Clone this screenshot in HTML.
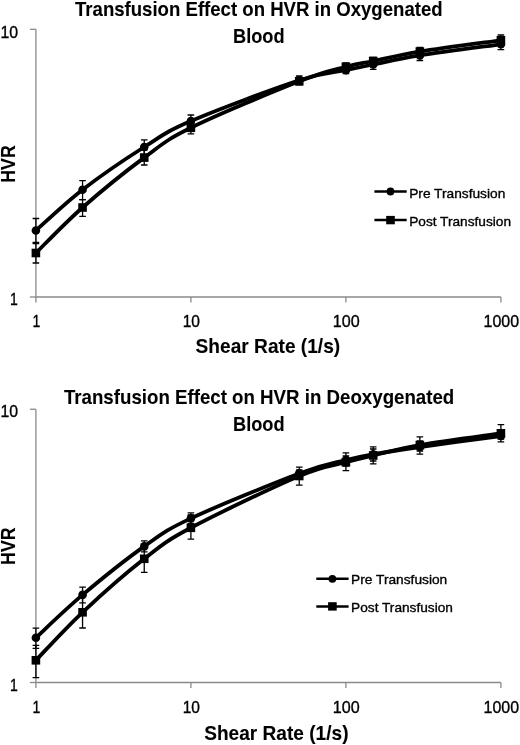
<!DOCTYPE html>
<html><head><meta charset="utf-8"><style>
html,body{margin:0;padding:0;background:#fff;width:520px;height:745px;overflow:hidden}
svg{display:block;font-family:"Liberation Sans",sans-serif;filter:grayscale(1) blur(0.4px)}
text{fill:#000;stroke:#000;stroke-width:0.35px}
text.b{stroke-width:0.1px}
</style></head><body>
<svg width="520" height="745" viewBox="0 0 520 745">
<g stroke="#8a8a8a" stroke-width="1.3" fill="none"><path d="M35.90,29.30V297.00H500.90"/><path d="M29.90,29.30H35.90"/><path d="M29.90,297.00H35.90"/><path d="M35.90,297.00V302.50"/><path d="M190.90,297.00V302.50"/><path d="M345.90,297.00V302.50"/><path d="M500.90,297.00V302.50"/></g>
<path d="M35.90,230.50 C43.68,223.70 64.50,203.62 82.56,189.70 C100.62,175.78 126.18,158.45 144.24,147.00 C162.30,135.55 165.07,132.12 190.90,121.00 C216.73,109.88 273.41,88.77 299.24,80.30 C325.07,71.83 333.57,72.83 345.90,70.20 C358.23,67.57 360.87,66.97 373.19,64.50 C385.52,62.03 398.57,58.77 419.85,55.40 C441.14,52.03 487.39,46.15 500.90,44.30" fill="none" stroke="#000" stroke-width="3.8" stroke-linejoin="round"/>
<path d="M35.90,218.50V242.50M32.60,218.50h6.6M32.60,242.50h6.6" stroke="#000" stroke-width="1.3" fill="none"/>
<path d="M82.56,180.60V199.60M79.26,180.60h6.6M79.26,199.60h6.6" stroke="#000" stroke-width="1.3" fill="none"/>
<path d="M144.24,139.90V154.50M140.94,139.90h6.6M140.94,154.50h6.6" stroke="#000" stroke-width="1.3" fill="none"/>
<path d="M190.90,115.00V127.00M187.60,115.00h6.6M187.60,127.00h6.6" stroke="#000" stroke-width="1.3" fill="none"/>
<path d="M299.24,76.00V84.50M295.94,76.00h6.6M295.94,84.50h6.6" stroke="#000" stroke-width="1.3" fill="none"/>
<path d="M345.90,66.00V73.50M342.60,66.00h6.6M342.60,73.50h6.6" stroke="#000" stroke-width="1.3" fill="none"/>
<path d="M373.19,60.00V69.40M369.89,60.00h6.6M369.89,69.40h6.6" stroke="#000" stroke-width="1.3" fill="none"/>
<path d="M419.85,51.00V60.50M416.55,51.00h6.6M416.55,60.50h6.6" stroke="#000" stroke-width="1.3" fill="none"/>
<path d="M500.90,40.00V49.70M497.60,40.00h6.6M497.60,49.70h6.6" stroke="#000" stroke-width="1.3" fill="none"/>
<circle cx="35.90" cy="230.50" r="4.3"/>
<circle cx="82.56" cy="189.70" r="4.3"/>
<circle cx="144.24" cy="147.00" r="4.3"/>
<circle cx="190.90" cy="121.00" r="4.3"/>
<circle cx="299.24" cy="80.30" r="4.3"/>
<circle cx="345.90" cy="70.20" r="4.3"/>
<circle cx="373.19" cy="64.50" r="4.3"/>
<circle cx="419.85" cy="55.40" r="4.3"/>
<circle cx="500.90" cy="44.30" r="4.3"/>
<path d="M35.90,253.00 C43.68,245.42 64.50,223.40 82.56,207.50 C100.62,191.60 126.18,170.88 144.24,157.60 C162.30,144.32 165.07,140.52 190.90,127.80 C216.73,115.08 273.41,91.47 299.24,81.30 C325.07,71.13 333.57,70.18 345.90,66.80 C358.23,63.42 360.87,63.53 373.19,61.00 C385.52,58.47 398.57,55.05 419.85,51.60 C441.14,48.15 487.39,42.18 500.90,40.30" fill="none" stroke="#000" stroke-width="3.8" stroke-linejoin="round"/>
<path d="M35.90,243.50V263.00M32.60,243.50h6.6M32.60,263.00h6.6" stroke="#000" stroke-width="1.3" fill="none"/>
<path d="M82.56,199.60V216.30M79.26,199.60h6.6M79.26,216.30h6.6" stroke="#000" stroke-width="1.3" fill="none"/>
<path d="M144.24,150.00V165.00M140.94,150.00h6.6M140.94,165.00h6.6" stroke="#000" stroke-width="1.3" fill="none"/>
<path d="M190.90,121.50V133.80M187.60,121.50h6.6M187.60,133.80h6.6" stroke="#000" stroke-width="1.3" fill="none"/>
<path d="M299.24,77.50V84.50M295.94,77.50h6.6M295.94,84.50h6.6" stroke="#000" stroke-width="1.3" fill="none"/>
<path d="M345.90,63.00V70.00M342.60,63.00h6.6M342.60,70.00h6.6" stroke="#000" stroke-width="1.3" fill="none"/>
<path d="M373.19,57.50V64.50M369.89,57.50h6.6M369.89,64.50h6.6" stroke="#000" stroke-width="1.3" fill="none"/>
<path d="M419.85,47.50V55.00M416.55,47.50h6.6M416.55,55.00h6.6" stroke="#000" stroke-width="1.3" fill="none"/>
<path d="M500.90,35.00V44.00M497.60,35.00h6.6M497.60,44.00h6.6" stroke="#000" stroke-width="1.3" fill="none"/>
<rect x="31.60" y="248.70" width="8.6" height="8.6"/>
<rect x="78.26" y="203.20" width="8.6" height="8.6"/>
<rect x="139.94" y="153.30" width="8.6" height="8.6"/>
<rect x="186.60" y="123.50" width="8.6" height="8.6"/>
<rect x="294.94" y="77.00" width="8.6" height="8.6"/>
<rect x="341.60" y="62.50" width="8.6" height="8.6"/>
<rect x="368.89" y="56.70" width="8.6" height="8.6"/>
<rect x="415.55" y="47.30" width="8.6" height="8.6"/>
<rect x="496.60" y="36.00" width="8.6" height="8.6"/>
<path d="M374.40,191.50h32.3" stroke="#000" stroke-width="2.5"/><circle cx="390.50" cy="191.50" r="3.9"/><path d="M374.40,220.10h32.3" stroke="#000" stroke-width="2.5"/><rect x="386.20" y="215.90" width="8.6" height="8.4"/>
<text x="75.00" y="15.80" font-size="20.20" font-weight="bold" class="b" textLength="367.60" lengthAdjust="spacingAndGlyphs" text-anchor="start" >Transfusion Effect on HVR in Oxygenated</text>
<text x="233.00" y="42.90" font-size="20.20" font-weight="bold" class="b" textLength="51.60" lengthAdjust="spacingAndGlyphs" text-anchor="start" >Blood</text>
<text x="195.60" y="352.80" font-size="20.20" font-weight="bold" class="b" textLength="144.60" lengthAdjust="spacingAndGlyphs" text-anchor="start" >Shear Rate (1/s)</text>
<text x="409.20" y="197.90" font-size="13.50"  textLength="96.10" lengthAdjust="spacingAndGlyphs" text-anchor="start" >Pre Transfusion</text>
<text x="409.20" y="225.90" font-size="13.50"  textLength="101.80" lengthAdjust="spacingAndGlyphs" text-anchor="start" >Post Transfusion</text>
<text x="18.00" y="37.50" font-size="16.50"  textLength="17.60" lengthAdjust="spacingAndGlyphs" text-anchor="end" >10</text>
<text x="17.90" y="305.00" font-size="16.50"  textLength="7.80" lengthAdjust="spacingAndGlyphs" text-anchor="end" >1</text>
<text x="36.30" y="326.60" font-size="16.50"  textLength="7.80" lengthAdjust="spacingAndGlyphs" text-anchor="middle" >1</text>
<text x="191.30" y="326.60" font-size="16.50"  textLength="17.30" lengthAdjust="spacingAndGlyphs" text-anchor="middle" >10</text>
<text x="346.30" y="326.60" font-size="16.50"  textLength="26.90" lengthAdjust="spacingAndGlyphs" text-anchor="middle" >100</text>
<text x="501.30" y="326.60" font-size="16.50"  textLength="35.50" lengthAdjust="spacingAndGlyphs" text-anchor="middle" >1000</text>
<text transform="translate(14.6,164.00) rotate(-90)" font-size="20.2" font-weight="bold" class="b" text-anchor="middle" textLength="37.4" lengthAdjust="spacingAndGlyphs">HVR</text>
<g stroke="#8a8a8a" stroke-width="1.3" fill="none"><path d="M35.90,409.25V682.50H500.90"/><path d="M29.90,409.25H35.90"/><path d="M29.90,682.50H35.90"/><path d="M35.90,682.50V688.00"/><path d="M190.90,682.50V688.00"/><path d="M345.90,682.50V688.00"/><path d="M500.90,682.50V688.00"/></g>
<path d="M35.90,637.70 C43.68,630.57 64.50,610.12 82.56,594.90 C100.62,579.68 126.18,559.15 144.24,546.40 C162.30,533.65 165.07,530.55 190.90,518.40 C216.73,506.25 273.41,483.23 299.24,473.50 C325.07,463.77 333.57,463.22 345.90,460.00 C358.23,456.78 360.87,456.37 373.19,454.20 C385.52,452.03 398.57,450.03 419.85,447.00 C441.14,443.97 487.39,437.83 500.90,436.00" fill="none" stroke="#000" stroke-width="3.8" stroke-linejoin="round"/>
<path d="M35.90,628.20V648.40M32.60,628.20h6.6M32.60,648.40h6.6" stroke="#000" stroke-width="1.3" fill="none"/>
<path d="M82.56,587.20V602.80M79.26,587.20h6.6M79.26,602.80h6.6" stroke="#000" stroke-width="1.3" fill="none"/>
<path d="M144.24,540.80V551.90M140.94,540.80h6.6M140.94,551.90h6.6" stroke="#000" stroke-width="1.3" fill="none"/>
<path d="M190.90,512.80V523.50M187.60,512.80h6.6M187.60,523.50h6.6" stroke="#000" stroke-width="1.3" fill="none"/>
<path d="M299.24,467.20V479.00M295.94,467.20h6.6M295.94,479.00h6.6" stroke="#000" stroke-width="1.3" fill="none"/>
<path d="M345.90,452.80V466.00M342.60,452.80h6.6M342.60,466.00h6.6" stroke="#000" stroke-width="1.3" fill="none"/>
<path d="M373.19,446.90V461.00M369.89,446.90h6.6M369.89,461.00h6.6" stroke="#000" stroke-width="1.3" fill="none"/>
<path d="M419.85,441.00V454.10M416.55,441.00h6.6M416.55,454.10h6.6" stroke="#000" stroke-width="1.3" fill="none"/>
<path d="M500.90,431.00V441.90M497.60,431.00h6.6M497.60,441.90h6.6" stroke="#000" stroke-width="1.3" fill="none"/>
<circle cx="35.90" cy="637.70" r="4.3"/>
<circle cx="82.56" cy="594.90" r="4.3"/>
<circle cx="144.24" cy="546.40" r="4.3"/>
<circle cx="190.90" cy="518.40" r="4.3"/>
<circle cx="299.24" cy="473.50" r="4.3"/>
<circle cx="345.90" cy="460.00" r="4.3"/>
<circle cx="373.19" cy="454.20" r="4.3"/>
<circle cx="419.85" cy="447.00" r="4.3"/>
<circle cx="500.90" cy="436.00" r="4.3"/>
<path d="M35.90,660.30 C43.68,652.30 64.50,629.22 82.56,612.30 C100.62,595.38 126.18,572.88 144.24,558.80 C162.30,544.72 165.07,541.60 190.90,527.80 C216.73,514.00 273.41,486.93 299.24,476.00 C325.07,465.07 333.57,465.62 345.90,462.20 C358.23,458.78 360.87,458.35 373.19,455.50 C385.52,452.65 398.57,448.80 419.85,445.10 C441.14,441.40 487.39,435.27 500.90,433.30" fill="none" stroke="#000" stroke-width="3.8" stroke-linejoin="round"/>
<path d="M35.90,645.30V677.70M32.60,645.30h6.6M32.60,677.70h6.6" stroke="#000" stroke-width="1.3" fill="none"/>
<path d="M82.56,596.60V628.00M79.26,596.60h6.6M79.26,628.00h6.6" stroke="#000" stroke-width="1.3" fill="none"/>
<path d="M144.24,545.00V572.30M140.94,545.00h6.6M140.94,572.30h6.6" stroke="#000" stroke-width="1.3" fill="none"/>
<path d="M190.90,515.00V539.10M187.60,515.00h6.6M187.60,539.10h6.6" stroke="#000" stroke-width="1.3" fill="none"/>
<path d="M299.24,470.00V485.20M295.94,470.00h6.6M295.94,485.20h6.6" stroke="#000" stroke-width="1.3" fill="none"/>
<path d="M345.90,456.00V470.60M342.60,456.00h6.6M342.60,470.60h6.6" stroke="#000" stroke-width="1.3" fill="none"/>
<path d="M373.19,449.00V463.80M369.89,449.00h6.6M369.89,463.80h6.6" stroke="#000" stroke-width="1.3" fill="none"/>
<path d="M419.85,436.80V451.00M416.55,436.80h6.6M416.55,451.00h6.6" stroke="#000" stroke-width="1.3" fill="none"/>
<path d="M500.90,424.60V439.00M497.60,424.60h6.6M497.60,439.00h6.6" stroke="#000" stroke-width="1.3" fill="none"/>
<rect x="31.60" y="656.00" width="8.6" height="8.6"/>
<rect x="78.26" y="608.00" width="8.6" height="8.6"/>
<rect x="139.94" y="554.50" width="8.6" height="8.6"/>
<rect x="186.60" y="523.50" width="8.6" height="8.6"/>
<rect x="294.94" y="471.70" width="8.6" height="8.6"/>
<rect x="341.60" y="457.90" width="8.6" height="8.6"/>
<rect x="368.89" y="451.20" width="8.6" height="8.6"/>
<rect x="415.55" y="440.80" width="8.6" height="8.6"/>
<rect x="496.60" y="429.00" width="8.6" height="8.6"/>
<path d="M316.30,578.80h32.3" stroke="#000" stroke-width="2.5"/><circle cx="332.40" cy="578.80" r="3.9"/><path d="M316.30,606.40h32.3" stroke="#000" stroke-width="2.5"/><rect x="328.10" y="602.20" width="8.6" height="8.4"/>
<text x="63.90" y="403.70" font-size="20.20" font-weight="bold" class="b" textLength="390.40" lengthAdjust="spacingAndGlyphs" text-anchor="start" >Transfusion Effect on HVR in Deoxygenated</text>
<text x="233.00" y="431.00" font-size="20.20" font-weight="bold" class="b" textLength="51.60" lengthAdjust="spacingAndGlyphs" text-anchor="start" >Blood</text>
<text x="204.20" y="739.80" font-size="20.20" font-weight="bold" class="b" textLength="144.30" lengthAdjust="spacingAndGlyphs" text-anchor="start" >Shear Rate (1/s)</text>
<text x="351.10" y="583.90" font-size="13.50"  textLength="96.10" lengthAdjust="spacingAndGlyphs" text-anchor="start" >Pre Transfusion</text>
<text x="351.10" y="612.00" font-size="13.50"  textLength="101.80" lengthAdjust="spacingAndGlyphs" text-anchor="start" >Post Transfusion</text>
<text x="18.00" y="417.30" font-size="16.50"  textLength="17.60" lengthAdjust="spacingAndGlyphs" text-anchor="end" >10</text>
<text x="17.90" y="690.50" font-size="16.50"  textLength="7.80" lengthAdjust="spacingAndGlyphs" text-anchor="end" >1</text>
<text x="36.30" y="712.60" font-size="16.50"  textLength="7.80" lengthAdjust="spacingAndGlyphs" text-anchor="middle" >1</text>
<text x="191.30" y="712.60" font-size="16.50"  textLength="17.30" lengthAdjust="spacingAndGlyphs" text-anchor="middle" >10</text>
<text x="346.30" y="712.60" font-size="16.50"  textLength="26.90" lengthAdjust="spacingAndGlyphs" text-anchor="middle" >100</text>
<text x="501.30" y="712.60" font-size="16.50"  textLength="35.50" lengthAdjust="spacingAndGlyphs" text-anchor="middle" >1000</text>
<text transform="translate(14.6,546.20) rotate(-90)" font-size="20.2" font-weight="bold" class="b" text-anchor="middle" textLength="37.4" lengthAdjust="spacingAndGlyphs">HVR</text>
</svg>
</body></html>
